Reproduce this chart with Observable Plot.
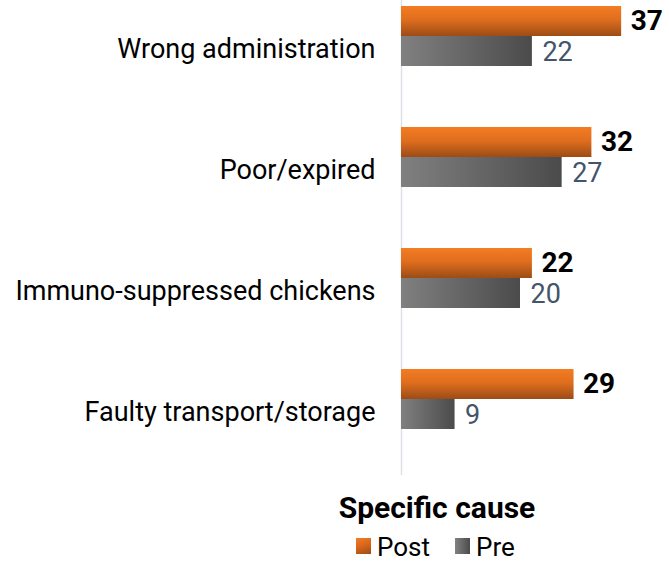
<!DOCTYPE html>
<html>
<head>
<meta charset="utf-8">
<script src="https://cdn.jsdelivr.net/npm/d3@7"></script>
<script src="https://cdn.jsdelivr.net/npm/@observablehq/plot@0.6"></script>
<style>
  html, body { margin: 0; padding: 0; background: #fff; overflow: hidden; }
  #wrap { position: relative; width: 669px; height: 563px; font-family: Roboto, "Noto Sans", sans-serif; }
  #chart svg { display: block; }
  .legend-title { position: absolute; top: 493px; left: 437px; transform: translateX(-50%); font-size: 30px; line-height: 30px; font-weight: bold; color: #000; white-space: nowrap; }
  .legend-item { position: absolute; top: 534px; font-size: 26px; line-height: 26px; color: #000; white-space: nowrap; }
  .swatch { position: absolute; top: 538px; width: 15px; height: 16px; }
</style>
</head>
<body>
<div id="wrap">
  <div id="chart"></div>
</div>
<script>
const categories = ["Wrong administration", "Poor/expired", "Immuno-suppressed chickens", "Faulty transport/storage"];
const postValues = [37, 32, 22, 29];
const preValues = [22, 27, 20, 9];
const seriesNames = ["Post", "Pre"];
const legendTitle = "Specific cause";

const data = categories.map((c, i) => ({cat: c, post: postValues[i], pre: preValues[i]}));

const plot = Plot.plot({
  width: 669,
  height: 475,
  marginLeft: 401,
  marginRight: 30,
  marginTop: 6,
  marginBottom: 45,
  style: {fontFamily: "Roboto", overflow: "visible", background: "transparent"},
  x: {domain: [0, 40], axis: null},
  y: {domain: categories, paddingInner: 0.504, paddingOuter: 0, axis: null},
  marks: [
    Plot.ruleX([0], {stroke: "#dde1e8", strokeWidth: 1.5, insetTop: -6, insetBottom: -45}),
    Plot.barX(data, {y: "cat", x: "post", fill: "url(#gradPost)", insetBottom: 30}),
    Plot.barX(data, {y: "cat", x: "pre", fill: "url(#gradPre)", insetTop: 30}),
    Plot.text(data, {y: "cat", x: "post", text: d => String(d.post), dx: 9, dy: -15, textAnchor: "start", fontWeight: "bold", fontSize: 28, fill: "#000"}),
    Plot.text(data, {y: "cat", x: "pre", text: d => String(d.pre), dx: 10, dy: 16, textAnchor: "start", fontSize: 27, fill: "#44546a"}),
    Plot.text(data, {y: "cat", x: () => 0, text: "cat", dx: -26, dy: 13, textAnchor: "end", fontSize: 27, fill: "#000"})
  ]
});

const ns = "http://www.w3.org/2000/svg";
const defs = document.createElementNS(ns, "defs");
defs.innerHTML = `
  <linearGradient id="gradPost" x1="0" y1="0" x2="0" y2="1">
    <stop offset="0" stop-color="#f47c22"/>
    <stop offset="0.45" stop-color="#e06e1e"/>
    <stop offset="1" stop-color="#9c4c16"/>
  </linearGradient>
  <linearGradient id="gradPre" x1="0" y1="0" x2="1" y2="0">
    <stop offset="0" stop-color="#808080"/>
    <stop offset="1" stop-color="#4b4b4b"/>
  </linearGradient>`;
plot.insertBefore(defs, plot.firstChild);
document.getElementById("chart").appendChild(plot);

const wrap = document.getElementById("wrap");
const t = document.createElement("div");
t.className = "legend-title";
t.textContent = legendTitle;
wrap.appendChild(t);

const items = [
  {name: seriesNames[0], sx: 356, tx: 377, bg: "linear-gradient(160deg, #f47c22 0%, #d9681c 45%, #9c4c16 100%)"},
  {name: seriesNames[1], sx: 455, tx: 476, bg: "linear-gradient(90deg, #828282 0%, #4b4b4b 100%)"}
];
items.forEach(it => {
  const s = document.createElement("div");
  s.className = "swatch";
  s.style.left = it.sx + "px";
  s.style.background = it.bg;
  wrap.appendChild(s);
  const l = document.createElement("div");
  l.className = "legend-item";
  l.style.left = it.tx + "px";
  l.textContent = it.name;
  wrap.appendChild(l);
});
</script>
</body>
</html>
